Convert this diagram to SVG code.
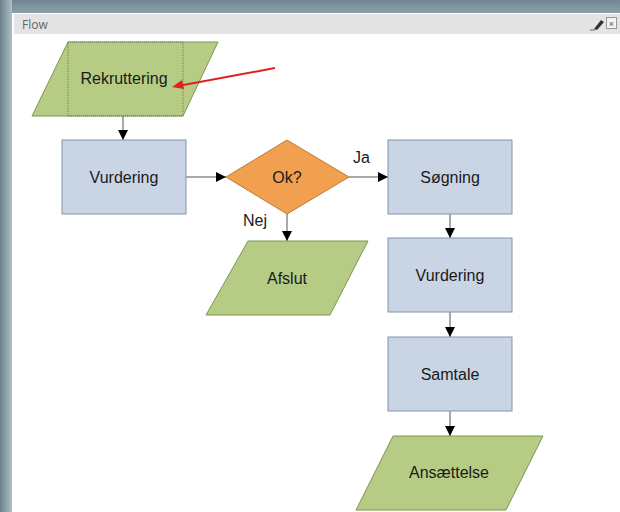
<svg xmlns="http://www.w3.org/2000/svg" width="620" height="512" viewBox="0 0 620 512">
<defs>
<linearGradient id="bg" x1="0" y1="0" x2="0" y2="1">
<stop offset="0" stop-color="#6f8793"/><stop offset="0.05" stop-color="#a9b9c1"/><stop offset="1" stop-color="#9aa9b1"/>
</linearGradient>
<linearGradient id="side" x1="0" y1="0" x2="1" y2="0">
<stop offset="0" stop-color="#6d818b"/><stop offset="1" stop-color="#b0bec5"/>
</linearGradient>
<marker id="ah" viewBox="0 0 10 10" refX="10" refY="5" markerWidth="10" markerHeight="10" markerUnits="userSpaceOnUse" orient="auto">
<path d="M0,0 L10,5 L0,10 z" fill="#000"/>
</marker>
</defs>
<style>
.para{fill:#b6cc85;stroke:#7f9455;stroke-width:1}
.box{fill:#c9d5e5;stroke:#8594a8;stroke-width:1}
.dia{fill:#f0a04f;stroke:#c07b35;stroke-width:1}
.t{font-family:"Liberation Sans",Arial,sans-serif;font-size:16px;fill:#1a1a1a;text-anchor:middle;dominant-baseline:central}
.lbl{font-family:"Liberation Sans",Arial,sans-serif;font-size:16px;fill:#1a1a1a}
.c{stroke:#555;stroke-width:1;fill:none}
</style>
<rect x="0" y="0" width="620" height="512" fill="url(#bg)"/>
<rect x="0" y="0" width="12" height="512" fill="url(#side)"/>
<rect x="12" y="13" width="608" height="499" fill="#ffffff"/>
<rect x="14" y="14" width="606" height="20" fill="#e4e4e4"/>
<text x="22" y="29" font-family="'Open Sans','Liberation Sans',sans-serif" font-size="12" fill="#666">Flow</text>
<g id="icons">
<path d="M594,29 L601,20 L604,22 L597,30 z" fill="#333"/>
<line x1="590" y1="30" x2="595" y2="30" stroke="#666" stroke-width="1"/>
<rect x="606.5" y="17.5" width="10" height="11" fill="#f4f4f4" stroke="#999"/>
<text x="611.5" y="26.5" font-family="'Liberation Sans',sans-serif" font-size="9" fill="#555" text-anchor="middle">×</text>
</g>
<g id="connectors">
<line class="c" x1="123" y1="116" x2="123" y2="140" marker-end="url(#ah)"/>
<line class="c" x1="186" y1="177" x2="226" y2="177" marker-end="url(#ah)"/>
<line class="c" x1="349" y1="177" x2="388" y2="177" marker-end="url(#ah)"/>
<line class="c" x1="287" y1="214" x2="287" y2="241" marker-end="url(#ah)"/>
<line class="c" x1="450" y1="214" x2="450" y2="238" marker-end="url(#ah)"/>
<line class="c" x1="450" y1="312" x2="450" y2="337" marker-end="url(#ah)"/>
<line class="c" x1="450" y1="411" x2="450" y2="436" marker-end="url(#ah)"/>
<text class="lbl" x="353" y="163">Ja</text>
<text class="lbl" x="243" y="226">Nej</text>
</g>
<g id="rekruttering">
<polygon class="para" points="68,42 218,42 183,116 32,116"/>
<rect x="68" y="42" width="115" height="74" fill="none" stroke="#777" stroke-width="1" stroke-dasharray="1,1"/>
<text class="t" x="124" y="78">Rekruttering</text>
</g>
<g id="vurdering1">
<rect class="box" x="62" y="140" width="124" height="74"/>
<text class="t" x="124" y="177">Vurdering</text>
</g>
<g id="ok">
<polygon class="dia" points="287,140 349,177 287,214 226,177"/>
<text class="t" x="287" y="177">Ok?</text>
</g>
<g id="afslut">
<polygon class="para" points="248,241 368,241 330,315 206,315"/>
<text class="t" x="287" y="278">Afslut</text>
</g>
<g id="sogning">
<rect class="box" x="388" y="140" width="124" height="74"/>
<text class="t" x="450" y="177">Søgning</text>
</g>
<g id="vurdering2">
<rect class="box" x="388" y="238" width="124" height="74"/>
<text class="t" x="450" y="275">Vurdering</text>
</g>
<g id="samtale">
<rect class="box" x="388" y="337" width="124" height="74"/>
<text class="t" x="450" y="374">Samtale</text>
</g>
<g id="ansaettelse">
<polygon class="para" points="393,436 543,436 506,510 356,510"/>
<text class="t" x="449" y="472">Ansættelse</text>
</g>
<g id="pointer">
<line x1="275" y1="68" x2="178" y2="86" stroke="#e02020" stroke-width="2"/>
<path d="M172,87 L182,80 L184,89 z" fill="#e02020"/>
</g>
</svg>
